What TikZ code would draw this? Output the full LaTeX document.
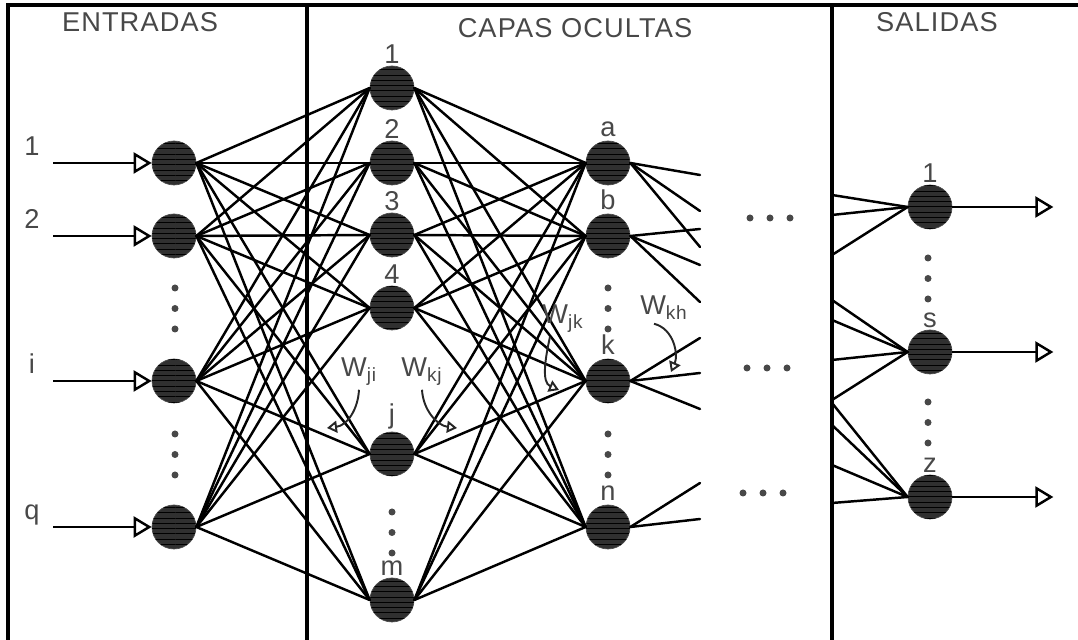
\documentclass[tikz,border=0pt]{standalone}
\usepackage{fontspec}
\setmainfont{Liberation Sans}[LetterSpace=4]
\usetikzlibrary{arrows.meta, patterns}

\definecolor{inkgray}{RGB}{72,72,72}
\definecolor{cellfill}{RGB}{48,48,48}

\tikzset{
    neuron/.style={circle, minimum size=0.88cm, inner sep=0pt, fill=cellfill, draw=black!70, line width=0.4pt,
        postaction={pattern=horizontal lines, pattern color=black}},
    link/.style={line width=1.4pt, line cap=round},
    frameline/.style={line width=1.9pt},
    txt/.style={text=inkgray, font=\fontsize{15.5}{18}\selectfont},
    tag/.style={txt, inner sep=1pt},
    signal/.style={line width=1.4pt, -{Triangle[open, length=0.36cm, width=0.42cm, line width=1.4pt]}},
    pointer/.style={line width=1.1pt, black!85, -{Triangle[open, length=0.2cm, width=0.24cm]}}
}

\newcommand{\vdotsat}[2]{
    % three dots going down from (#1,#2)
    \foreach \d in {0, 1, 2}
        \fill[inkgray] (#1, #2 - \d*0.41) circle (0.07);
}
\newcommand{\hdotsat}[2]{
    % three dots going right from (#1,#2)
    \foreach \d in {0, 1, 2}
        \fill[inkgray] (#1 + \d*0.4, #2) circle (0.07);
}

\begin{document}
\begin{tikzpicture}
    \useasboundingbox (0,0) rectangle (21.56,12.8);

    % Frame and column separators
    \draw[frameline] (0.16,0) -- (0.16,12.7) -- (21.56,12.7);
    \draw[frameline] (6.14,0) -- (6.14,12.7);
    \draw[frameline] (16.64,0) -- (16.64,12.7);

    % Column titles
    \node[txt] (tin) at (2.80,12.36) {ENTRADAS};
    \node[txt] (thid) at (11.50,12.24) {CAPAS OCULTAS};
    \node[txt] (tout) at (18.74,12.36) {SALIDAS};

    % Input layer
    \foreach \name/\lab/\y in {in1/1/9.54, in2/2/8.08, ini/i/5.18, inq/q/2.26} {
        \node[neuron] (\name) at (3.48,\y) {};
        \coordinate (\name-src) at (1.06,\y);
        \draw[signal] (\name-src) -- (\name);
        \node[tag, anchor=base] (\name-lab) at (0.64,\y+0.14) {\lab};
    }

    % First hidden layer
    \foreach \name/\lab/\y in {h1/1/11.04, h2/2/9.54, h3/3/8.10, h4/4/6.64, hj/j/3.72, hm/m/0.80}
        \node[neuron, label={[tag, label distance=0pt]above:\lab}] (\name) at (7.84,\y) {};

    % Second hidden layer
    \foreach \name/\lab/\y in {ha/a/9.54, hb/b/8.08, hk/k/5.18, hn/n/2.26}
        \node[neuron, label={[tag, label distance=1pt]above:\lab}] (\name) at (12.16,\y) {};

    % Output layer
    \foreach \name/\lab/\y in {o1/1/8.66, os/s/5.76, oz/z/2.86}
        \node[neuron, label={[tag, label distance=0pt]above:\lab}] (\name) at (18.60,\y) {};

    % Inputs to first hidden layer
    \foreach \a in {in1, in2, ini, inq}
        \foreach \b in {h1, h2, h3, h4, hj, hm}
            \draw[link] (\a.east) -- (\b.west);

    % First to second hidden layer
    \foreach \a in {h1, h2, h3, h4, hj, hm}
        \foreach \b in {ha, hb, hk, hn}
            \draw[link] (\a.east) -- (\b.west);

    % Fan-out of the second hidden layer
    \foreach \src/\y [count=\c] in {ha/9.30, ha/8.58, ha/7.86, hb/8.22, hb/7.50, hb/6.76,
                                    hk/6.04, hk/5.34, hk/4.62, hn/3.14, hn/2.42} {
        \coordinate (fan\c) at (14.00,\y);
        \draw[link] (\src.east) -- (fan\c);
    }

    % Fan-in to the outputs
    \foreach \dst/\y [count=\c] in {o1/8.90, o1/8.50, o1/7.70, os/6.80, os/6.40, os/5.60, os/4.80,
                                    oz/4.74, oz/4.30, oz/3.50, oz/2.74} {
        \coordinate (feed\c) at (16.64,\y);
        \draw[link] (feed\c) -- (\dst.west);
    }

    % Output signals
    \foreach \name in {o1, os, oz} {
        \path (\name.east) ++(2.02,0) coordinate (\name-out);
        \draw[signal] (\name) -- (\name-out);
    }

    % Ellipses
    \vdotsat{3.50}{7.04};
    \vdotsat{3.50}{4.12};
    \vdotsat{7.84}{2.56};
    \vdotsat{12.16}{7.04};
    \vdotsat{12.16}{4.12};
    \vdotsat{18.56}{7.64};
    \vdotsat{18.56}{4.76};
    \hdotsat{15.00}{8.44};
    \hdotsat{14.94}{5.44};
    \hdotsat{14.86}{2.94};

    % Weights
    \node[tag] (wji) at (7.18,5.36) {W\textsubscript{ji}};
    \node[tag] (wkj) at (8.44,5.36) {W\textsubscript{kj}};
    \node[tag] (wjk) at (11.26,6.42) {W\textsubscript{jk}};
    \node[tag] (wkh) at (13.28,6.64) {W\textsubscript{kh}};
    \coordinate (wji-tip) at (6.54,4.24);
    \coordinate (wkj-tip) at (9.14,4.24);
    \coordinate (wjk-tip) at (11.18,5.00);
    \coordinate (wkh-tip) at (13.42,5.36);
    \draw[pointer] ([yshift=-1pt]wji.south) .. controls +(-0.02,-0.4) and +(0.4,0.05) .. (wji-tip);
    \draw[pointer] ([yshift=-1pt]wkj.south) .. controls +(0.02,-0.4) and +(-0.4,0.05) .. (wkj-tip);
    \draw[pointer] ([xshift=-0.26cm, yshift=-1pt]wjk.south) .. controls +(-0.1,-0.45) and +(-0.35,0.15) .. (wjk-tip);
    \draw[pointer] ([xshift=-0.2cm, yshift=-1pt]wkh.south) .. controls +(0.4,-0.1) and +(0.15,0.35) .. (wkh-tip);
\end{tikzpicture}
\end{document}
